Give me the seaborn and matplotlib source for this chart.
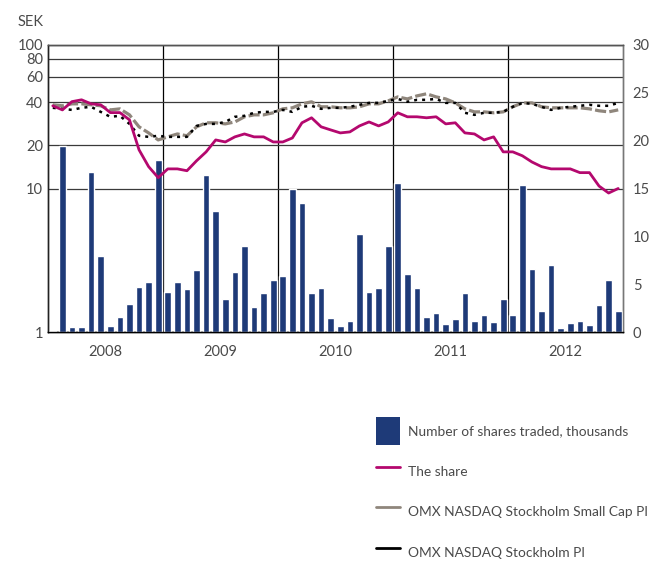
import numpy as np
import pandas as pd
import matplotlib
matplotlib.use("Agg")
import matplotlib.pyplot as plt
import seaborn as sns
from matplotlib.patches import Patch
from matplotlib.lines import Line2D

# ---------------- data (monthly, Jan 2008 - Dec 2012) ----------------
years = ["2008", "2009", "2010", "2011", "2012"]
months = list(range(60))

volume = [0.15, 19.4, 0.5, 0.5, 16.7, 7.9, 0.6, 1.6, 2.9, 4.7, 5.2, 18.0,
          4.2, 5.2, 4.5, 6.5, 16.4, 12.7, 3.5, 6.3, 9.0, 2.65, 4.1, 5.4,
          5.9, 15.0, 13.5, 4.1, 4.6, 1.5, 0.6, 1.2, 10.2, 4.2, 4.6, 9.0,
          15.6, 6.1, 4.6, 1.6, 2.0, 0.8, 1.4, 4.1, 1.2, 1.8, 1.0, 3.4,
          1.8, 15.4, 6.6, 2.2, 7.0, 0.45, 0.9, 1.1, 0.7, 2.8, 5.4, 2.2]

share = [37.7, 35.3, 40.3, 41.5, 38.9, 38.3, 33.8, 33.8, 30.1, 18.6, 14.2, 11.9,
         13.7, 13.7, 13.3, 15.6, 18.0, 21.8, 21.1, 22.9, 24.0, 22.9, 22.9, 21.1,
         21.1, 22.5, 28.7, 31.1, 26.9, 25.6, 24.4, 24.8, 27.3, 29.1, 27.3, 29.1,
         33.7, 31.6, 31.6, 31.1, 31.6, 28.2, 28.7, 24.4, 24.0, 21.8, 22.9, 18.0,
         18.0, 16.9, 15.3, 14.2, 13.7, 13.7, 13.7, 12.9, 12.9, 10.4, 9.3, 10.0]

small_cap = [38.3, 37.7, 38.9, 38.9, 38.3, 37.7, 35.3, 35.9, 32.6, 26.9, 24.4, 21.8,
             22.9, 24.0, 23.3, 26.9, 28.7, 28.7, 28.2, 29.1, 31.6, 32.6, 32.6, 33.7,
             35.9, 36.5, 38.9, 40.2, 37.1, 37.1, 36.5, 36.5, 37.1, 38.9, 38.9, 40.8,
             43.5, 42.1, 44.2, 45.7, 43.5, 42.1, 39.5, 35.9, 34.2, 34.2, 33.7, 34.2,
             37.1, 39.5, 39.5, 37.1, 36.5, 36.5, 36.5, 36.5, 35.9, 34.8, 34.2, 35.3]

omx_pi = [36.5, 35.9, 35.3, 36.5, 37.1, 34.2, 31.6, 32.1, 28.2, 23.3, 22.9, 23.3,
          22.9, 22.9, 22.9, 27.3, 28.2, 28.2, 29.1, 31.6, 32.1, 33.7, 34.2, 34.2,
          35.3, 34.2, 37.1, 37.7, 35.9, 36.5, 36.5, 37.1, 38.3, 39.5, 39.5, 40.8,
          42.1, 40.2, 41.5, 41.5, 42.1, 39.5, 39.5, 33.7, 32.6, 33.7, 33.7, 34.2,
          37.1, 39.5, 38.9, 37.1, 35.3, 36.5, 37.1, 37.7, 38.3, 37.7, 37.7, 39.5]

left_ticks = [1, 10, 20, 40, 60, 80, 100]
right_ticks = [0, 5, 10, 15, 20, 25, 30]

legend_labels = ["Number of shares traded, thousands", "The share",
                 "OMX NASDAQ Stockholm Small Cap PI", "OMX NASDAQ Stockholm PI"]

# ---------------- styling ----------------
NAVY = "#1e3a78"
MAGENTA = "#b4086e"
GRAY = "#8f867c"
TXT = "#4a4a4a"

sns.set_style("white")
plt.rcParams["font.family"] = ["Lato", "DejaVu Sans"]
plt.rcParams["font.size"] = 10

fig = plt.figure(figsize=(6.51, 5.61), dpi=100)
L, R, T, B = 48 / 651, 623 / 651, 45 / 561, 332 / 561
ax = fig.add_axes([L, 1 - B, R - L, B - T])
ax2 = ax.twinx()
ax3 = ax.twinx()

# bars (right axis, linear)
df_bar = pd.DataFrame({"month": months, "volume": volume})
sns.barplot(data=df_bar, x="month", y="volume", ax=ax2, color=NAVY,
            saturation=1, width=0.7, zorder=2)
ax2.set_ylim(0, 30)
ax2.set_yticks(right_ticks)
ax2.set_yticklabels([str(t) for t in right_ticks])
ax2.tick_params(axis="y", length=0, pad=7, labelcolor=TXT, labelsize=10.5)
ax2.set_xlabel("")
ax2.set_ylabel("")

# lines (log axis)
df_line = pd.DataFrame({"month": months, "share": share,
                        "small": small_cap, "omx": omx_pi})
ax3.set_yscale("log")
sns.lineplot(data=df_line, x="month", y="small", ax=ax3, color=GRAY,
             linewidth=2.3, linestyle=(0, (3.5, 1.0)))
sns.lineplot(data=df_line, x="month", y="omx", ax=ax3, color="black",
             linewidth=1.8, linestyle=(0, (1.2, 2.0)))
sns.lineplot(data=df_line, x="month", y="share", ax=ax3, color=MAGENTA,
             linewidth=2.0)
ax3.set_ylim(1, 100)
ax3.yaxis.set_visible(False)
ax3.set_xlabel("")
ax3.set_ylabel("")
for s in ax3.spines.values():
    s.set_visible(False)

# main (left, log) axis with grid
ax.set_yscale("log")
ax.set_ylim(1, 100)
ax.set_yticks(left_ticks)
ax.set_yticklabels([str(t) for t in left_ticks])
ax.yaxis.set_minor_locator(matplotlib.ticker.NullLocator())
ax.tick_params(axis="y", length=0, pad=3.5, labelcolor=TXT, labelsize=10.5)
ax.grid(axis="y", which="major", color="#3a3a3a", linewidth=0.9)

ax.set_xlim(-0.5, 59.5)
ax.set_xticks([5.5 + 12 * k for k in range(5)])
ax.set_xticklabels(years)
ax.set_xticks([11.5 + 12 * k for k in range(4)], minor=True)
ax.tick_params(axis="x", which="both", length=0, pad=9, labelcolor=TXT,
               labelsize=10.5)
ax.grid(axis="x", which="minor", color="black", linewidth=0.9)
ax.grid(axis="x", which="major", visible=False)

for a in (ax, ax2):
    a.spines["left"].set_color("#222222")
    a.spines["bottom"].set_color("black")
    a.spines["top"].set_color("#555555")
    a.spines["right"].set_color("#777777")
    for s in a.spines.values():
        s.set_linewidth(1.0)

fig.text(18 / 651, 1 - 22 / 561, "SEK", ha="left", va="center",
         color=TXT, fontsize=10.5)

# legend
handles = [Patch(facecolor=NAVY, edgecolor="none"),
           Line2D([], [], color=MAGENTA, lw=2),
           Line2D([], [], color=GRAY, lw=2),
           Line2D([], [], color="black", lw=2)]
leg = fig.legend(handles, legend_labels, loc="upper left",
                 bbox_to_anchor=(376 / 651, 1 - 417 / 561),
                 frameon=False, borderpad=0, borderaxespad=0,
                 handlelength=1.75, handleheight=2.76, handletextpad=0.59,
                 labelspacing=0.92, fontsize=9.9)
for t in leg.get_texts():
    t.set_color(TXT)

fig.savefig("out.png", dpi=100)
